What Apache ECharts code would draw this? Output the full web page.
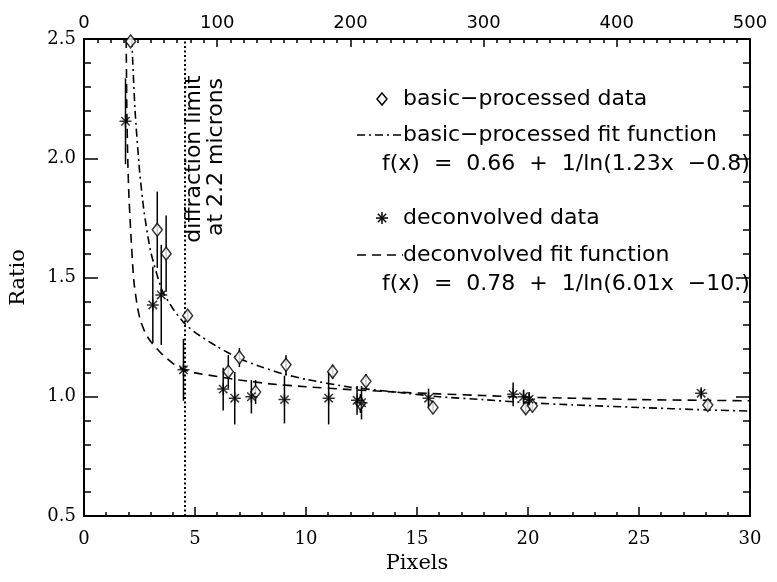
<!DOCTYPE html>
<html><head><meta charset="utf-8">
<script src="https://cdn.jsdelivr.net/npm/echarts@6/dist/echarts.min.js"></script>
<style>html,body{margin:0;padding:0;background:#fff}#c{width:777px;height:582px}</style>
</head><body><div id="c"></div>
<script>
// ---- data ----
const basicX   = [2.1, 3.3, 3.7, 4.67, 6.5, 7.0, 7.73, 9.1, 11.2, 12.45, 12.7, 15.72, 19.9, 20.2, 28.1];
const basicY   = [2.49, 1.70, 1.60, 1.34, 1.105, 1.165, 1.02, 1.134, 1.105, 0.972, 1.065, 0.955, 0.952, 0.962, 0.965];
const basicErr = [0.0, 0.16, 0.16, 0.02, 0.07, 0.04, 0.05, 0.04, 0.03, 0.04, 0.03, 0.02, 0.02, 0.02, 0.02];

const decX   = [1.87, 3.1, 3.48, 4.48, 6.27, 6.79, 7.54, 9.03, 11.02, 12.3, 12.5, 15.52, 19.33, 19.8, 20.05, 27.8];
const decY   = [2.155, 1.385, 1.427, 1.113, 1.032, 0.994, 1.0, 0.988, 0.994, 0.985, 0.975, 0.994, 1.01, 1.0, 0.99, 1.015];
const decErr = [0.18, 0.16, 0.21, 0.13, 0.09, 0.11, 0.07, 0.1, 0.11, 0.06, 0.07, 0.04, 0.05, 0.03, 0.03, 0.02];

const basicFitX = [2.15, 2.3, 2.5, 2.7, 3.0, 3.5, 4.0, 4.5, 5.0, 6.0, 7.0, 8.0, 9.0, 10, 12, 14, 16, 18, 20, 22, 25, 28, 30];
const basicFitY = [2.50, 2.20, 1.95, 1.78, 1.61, 1.45, 1.37, 1.31, 1.27, 1.21, 1.16, 1.125, 1.095, 1.073, 1.04, 1.02, 1.0, 0.988, 0.975, 0.966, 0.955, 0.945, 0.94];

const decFitX = [1.9, 1.93, 1.97, 2.02, 2.1, 2.24, 2.4, 2.54, 2.8, 3.06, 3.5, 4.0, 4.5, 5.0, 6.0, 7.0, 8.4, 10, 12, 14, 16, 18, 20, 22, 25, 28, 30];
const decFitY = [2.5, 2.2, 2.0, 1.85, 1.7, 1.49, 1.38, 1.32, 1.26, 1.225, 1.18, 1.14, 1.113, 1.1, 1.085, 1.07, 1.054, 1.042, 1.03, 1.02, 1.012, 1.005, 0.998, 0.994, 0.988, 0.985, 0.983];

const diffLimit = 4.55;

const xTicks = {min: 0, max: 30, interval: 5};
const topTicks = {min: 0, max: 500, interval: 100};
const yTicks = {min: 0.5, max: 2.5, interval: 0.5};

const legendLabels = ['basic\u2212processed data', 'basic\u2212processed fit function', 'f(x)  =  0.66  +  1/ln(1.23x  \u22120.8)',
                      'deconvolved data', 'deconvolved fit function', 'f(x)  =  0.78  +  1/ln(6.01x  \u221210.)'];
const diffLabels = ['diffraction limit', 'at 2.2 microns'];

// ---- chart ----
const chart = echarts.init(document.getElementById('c'), null, {renderer: 'canvas'});
const SERIF = 'DejaVu Serif';
const SANS = 'DejaVu Sans';
const DIAMOND = 'path://M5,0L10,6.5L5,13L0,6.5Z';
const STAR = 'path://M0,6L12,6M6,0L6,12M1.8,1.8L10.2,10.2M1.8,10.2L10.2,1.8';

function zip(a, b) { return a.map((v, i) => [v, b[i]]); }

function errSeries(xs, ys, es) {
  return {
    type: 'custom', xAxisIndex: 0, yAxisIndex: 0, silent: true, clip: true, z: 3,
    data: xs.map((x, i) => [x, ys[i] - es[i], ys[i] + es[i]]),
    renderItem: (params, api) => {
      const p1 = api.coord([api.value(0), api.value(1)]);
      const p2 = api.coord([api.value(0), api.value(2)]);
      return {type: 'line', shape: {x1: p1[0], y1: p1[1], x2: p2[0], y2: p2[1]},
              style: {stroke: '#000', lineWidth: 1.5}};
    }
  };
}

const axisCommon = {
  axisLine: {show: true, onZero: false, lineStyle: {color: '#000', width: 2}},
  splitLine: {show: false},
};

const legFont = '22px "DejaVu Sans"';
function starLines(cx, cy, r) {
  const d = r * 0.7;
  return [
    {type: 'line', shape: {x1: cx - r, y1: cy, x2: cx + r, y2: cy}, style: {stroke: '#000', lineWidth: 1.5}},
    {type: 'line', shape: {x1: cx, y1: cy - r, x2: cx, y2: cy + r}, style: {stroke: '#000', lineWidth: 1.5}},
    {type: 'line', shape: {x1: cx - d, y1: cy - d, x2: cx + d, y2: cy + d}, style: {stroke: '#000', lineWidth: 1.5}},
    {type: 'line', shape: {x1: cx - d, y1: cy + d, x2: cx + d, y2: cy - d}, style: {stroke: '#000', lineWidth: 1.5}}
  ];
}

chart.setOption({
  animation: false,
  backgroundColor: '#fff',
  grid: {left: 80, right: 27, top: 39, bottom: 66},
  xAxis: [
    Object.assign({
      type: 'value', position: 'bottom', min: xTicks.min, max: xTicks.max, interval: xTicks.interval,
      axisTick: {show: true, inside: true, length: 9, lineStyle: {color: '#000', width: 1.5}},
      minorTick: {show: true, splitNumber: 5, length: 4, lineStyle: {color: '#000', width: 1.5}},
      axisLabel: {color: '#000', fontFamily: SERIF, fontSize: 18, margin: 14},
      name: 'Pixels', nameLocation: 'middle', nameGap: 36,
      nameTextStyle: {color: '#000', fontFamily: SERIF, fontSize: 21}
    }, axisCommon),
    Object.assign({
      type: 'value', position: 'top', min: topTicks.min, max: topTicks.max, interval: topTicks.interval,
      axisTick: {show: true, inside: true, length: 8, lineStyle: {color: '#000', width: 1.5}},
      minorTick: {show: true, splitNumber: 10, length: 4, lineStyle: {color: '#000', width: 1.5}},
      axisLabel: {color: '#000', fontFamily: SANS, fontSize: 18, margin: 7}
    }, axisCommon)
  ],
  yAxis: [
    Object.assign({
      type: 'value', position: 'left', min: yTicks.min, max: yTicks.max, interval: yTicks.interval,
      axisTick: {show: true, inside: true, length: 14, lineStyle: {color: '#000', width: 1.5}},
      minorTick: {show: true, splitNumber: 5, length: 7, lineStyle: {color: '#000', width: 1.5}},
      axisLabel: {color: '#000', fontFamily: SERIF, fontSize: 18, margin: 8, formatter: v => v.toFixed(1)},
      name: 'Ratio', nameLocation: 'middle', nameGap: 55, nameRotate: 90,
      nameTextStyle: {color: '#000', fontFamily: SERIF, fontSize: 21}
    }, axisCommon),
    Object.assign({
      type: 'value', position: 'right', min: yTicks.min, max: yTicks.max, interval: yTicks.interval,
      axisTick: {show: true, inside: true, length: 14, lineStyle: {color: '#000', width: 1.5}},
      minorTick: {show: true, splitNumber: 5, length: 7, lineStyle: {color: '#000', width: 1.5}},
      axisLabel: {show: false}
    }, axisCommon)
  ],
  series: [
    {
      type: 'line', name: 'basic fit', data: zip(basicFitX, basicFitY), showSymbol: false, symbol: 'none',
      smooth: 0.2, clip: true, silent: true, z: 2,
      lineStyle: {color: '#000', width: 1.6, type: [8, 4, 2, 4]},
      markLine: {
        silent: true, symbol: 'none', label: {show: false},
        lineStyle: {color: '#000', width: 2, type: [2, 2.5]},
        data: [{xAxis: diffLimit}]
      }
    },
    {
      type: 'line', name: 'deconvolved fit', data: zip(decFitX, decFitY), showSymbol: false, symbol: 'none',
      smooth: 0.2, clip: true, silent: true, z: 2,
      lineStyle: {color: '#000', width: 1.6, type: [9, 6]}
    },
    errSeries(basicX, basicY, basicErr),
    errSeries(decX, decY, decErr),
    {
      type: 'scatter', name: 'basic-processed data', data: zip(basicX, basicY), symbol: DIAMOND,
      symbolSize: [10, 13], clip: false, z: 5,
      itemStyle: {color: '#fff', borderColor: '#000', borderWidth: 1.5}
    },
    {
      type: 'scatter', name: 'deconvolved data', data: zip(decX, decY), symbol: STAR,
      symbolSize: [12, 12], clip: true, z: 5,
      itemStyle: {color: '#000', borderColor: '#000', borderWidth: 1.5}
    }
  ],
  graphic: [
    // legend
    {type: 'polygon', shape: {points: [[382, 93], [387, 99], [382, 105], [377, 99]]},
     style: {fill: '#fff', stroke: '#000', lineWidth: 1.5}},
    {type: 'text', x: 403, y: 99, style: {text: legendLabels[0], font: legFont, fill: '#000', verticalAlign: 'middle'}},
    {type: 'line', shape: {x1: 357, y1: 135, x2: 403, y2: 135}, style: {stroke: '#000', lineWidth: 1.5, lineDash: [8, 4, 2, 4]}},
    {type: 'text', x: 403, y: 135, style: {text: legendLabels[1], font: legFont, fill: '#000', verticalAlign: 'middle'}},
    {type: 'text', x: 382, y: 164, style: {text: legendLabels[2], font: legFont, fill: '#000', verticalAlign: 'middle'}}
  ].concat(starLines(382, 218, 6)).concat([
    {type: 'text', x: 403, y: 218, style: {text: legendLabels[3], font: legFont, fill: '#000', verticalAlign: 'middle'}},
    {type: 'line', shape: {x1: 357, y1: 255, x2: 403, y2: 255}, style: {stroke: '#000', lineWidth: 1.5, lineDash: [9, 6]}},
    {type: 'text', x: 403, y: 255, style: {text: legendLabels[4], font: legFont, fill: '#000', verticalAlign: 'middle'}},
    {type: 'text', x: 382, y: 284, style: {text: legendLabels[5], font: legFont, fill: '#000', verticalAlign: 'middle'}},
    // diffraction annotation
    {type: 'text', x: 194, y: 159, rotation: Math.PI / 2,
     style: {text: diffLabels[0], font: legFont, fill: '#000', align: 'center', verticalAlign: 'middle'}},
    {type: 'text', x: 216, y: 157, rotation: Math.PI / 2,
     style: {text: diffLabels[1], font: legFont, fill: '#000', align: 'center', verticalAlign: 'middle'}}
  ])
});
</script>
</body></html>
